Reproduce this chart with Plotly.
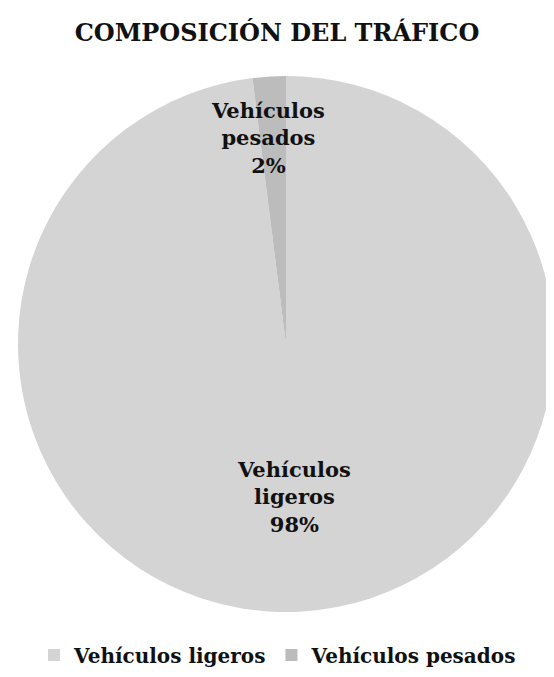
import plotly.graph_objects as go

categories = ["Vehículos ligeros", "Vehículos pesados"]
values = [98, 2]
label_lines = ["Vehículos<br>ligeros", "Vehículos<br>pesados"]
colors = ["#d4d4d4", "#bcbcbc"]

# figure is drawn at an 8px page offset; size it to fill the window
W, H = 546, 669
font_family = "DejaVu Serif"

fig = go.Figure(go.Pie(
    labels=categories,
    values=values,
    sort=False,
    direction="clockwise",
    rotation=0,
    marker=dict(colors=colors, line=dict(width=0)),
    textinfo="none",
    hoverinfo="label+percent",
    domain=dict(x=[10 / W, 546 / W], y=[1 - 604 / H, 1 - 68 / H]),
))

total = sum(values)
ann_pos = [(286, 489), (260, 130)]
annotations = []
for txt, v, (px, py) in zip(label_lines, values, ann_pos):
    annotations.append(dict(
        x=px / W, y=1 - py / H, xref="paper", yref="paper",
        text=f"{txt}<br>{round(100 * v / total)}%",
        showarrow=False, xanchor="center", yanchor="middle",
        font=dict(family=font_family, size=21, color="#111111", weight="bold"),
    ))

fig.update_layout(
    width=W, height=H,
    margin=dict(l=0, r=0, t=0, b=0),
    paper_bgcolor="white",
    plot_bgcolor="white",
    title=dict(text="COMPOSICIÓN DEL TRÁFICO", x=269 / W, xanchor="center",
               y=1 - 25 / H, yanchor="middle",
               font=dict(family=font_family, size=24, color="#111111", weight="bold")),
    legend=dict(orientation="h", x=270 / W, xanchor="center", y=1 - 647 / H, yanchor="middle",
                font=dict(family=font_family, size=20, color="#111111", weight="bold"),
                itemwidth=30, traceorder="normal"),
    annotations=annotations,
)

fig.write_html("out.html")
